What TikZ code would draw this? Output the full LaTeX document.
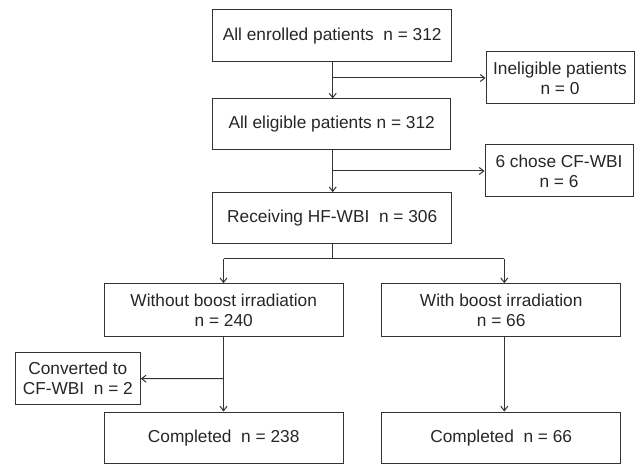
\documentclass[tikz,border=0pt]{standalone}
\usepackage{fontspec}
\setmainfont{Liberation Sans}
\usetikzlibrary{arrows.meta}
\begin{document}
\begin{tikzpicture}[x=1pt,y=-1pt,
  box/.style={draw=black!80, line width=1pt, inner sep=0pt, align=center, text=black!85,
     font=\fontsize{17.3}{20}\selectfont},
  arr/.style={draw=black!80, line width=1pt, -{Straight Barb[length=4.5pt,width=7pt]}},
  ln/.style={draw=black!80, line width=1pt}]
\useasboundingbox (0,0) rectangle (635,465);
\node[box, minimum width=239pt, minimum height=52pt] (top) at (332.2,35.9) {All enrolled patients~~n = 312};
\node[box, minimum width=148pt, minimum height=52pt] (inel) at (560,78) {Ineligible patients\\n = 0};
\node[box, minimum width=238pt, minimum height=51pt] (elig) at (331.7,124.5) {All eligible patients n = 312};
\node[box, minimum width=148pt, minimum height=52pt] (six) at (559,171) {6 chose CF-WBI\\n = 6};
\node[box, minimum width=239pt, minimum height=51.3pt] (recv) at (332.2,218.3) {Receiving HF-WBI~~n = 306};
\node[box, minimum width=239pt, minimum height=52.6pt] (without) at (223.7,310) {Without boost irradiation\\n = 240};
\node[box, minimum width=239pt, minimum height=52.6pt] (with) at (501.2,310) {With boost irradiation\\n = 66};
\node[box, minimum width=125pt, minimum height=52pt] (conv) at (77.8,378.7) {Converted to\\CF-WBI~~n = 2};
\node[box, minimum width=239pt, minimum height=51.3pt] (comp1) at (223.7,437.7) {Completed~~n = 238};
\node[box, minimum width=239pt, minimum height=51.3pt] (comp2) at (501.2,437.7) {Completed~~n = 66};

\coordinate (a1) at (332.7,78);
\coordinate (a2) at (332.7,171);
\coordinate (b0) at (332.5,259);
\coordinate (bl) at (223.5,259);
\coordinate (br) at (504.3,259);
\coordinate (c1) at (223.5,378.5);

\draw[arr] (top.south -| a1) -- (elig.north -| a1);
\draw[arr] (a1) -- (inel.west);
\draw[arr] (elig.south -| a2) -- (recv.north -| a2);
\draw[arr] (a2) -- (six.west);
\draw[ln] (recv.south -| b0) -- (b0);
\draw[ln] (bl) -- (br);
\draw[arr] (bl) -- (without.north -| bl);
\draw[arr] (br) -- (with.north -| br);
\draw[arr] (without.south -| c1) -- (comp1.north -| c1);
\draw[arr] (c1) -- (conv.east);
\draw[arr] (with.south -| br) -- (comp2.north -| br);
\end{tikzpicture}
\end{document}
